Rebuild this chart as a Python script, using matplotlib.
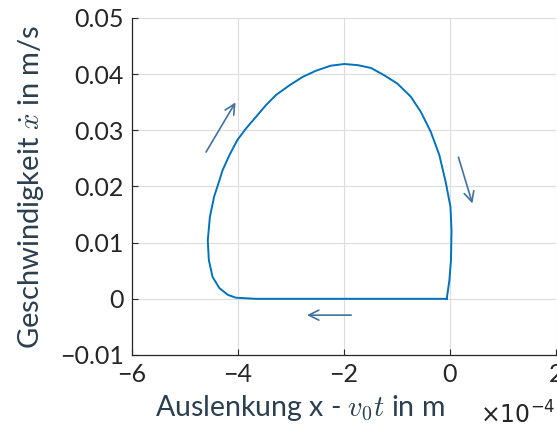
import numpy as np
import matplotlib.pyplot as plt

# Phasenportrait: Auslenkung (x - v0 t) in 1e-4 m, Geschwindigkeit in m/s
x_kurve = np.array([-0.06, -1.0, -2.0, -3.0, -3.66, -4.04, -4.19, -4.35, -4.48, -4.55,
                    -4.57, -4.53, -4.45, -4.35, -4.29, -4.16, -4.01, -3.85, -3.66,
                    -3.47, -3.28, -3.03, -2.78, -2.53, -2.25, -1.99, -1.74, -1.49,
                    -1.24, -0.99, -0.74, -0.55, -0.36, -0.20, -0.08, 0.01, 0.03,
                    0.02, -0.01, -0.06])
v_kurve = np.array([0.0, 0.0, 0.0, 0.0, 0.0, 0.0002, 0.0007, 0.0019, 0.0039, 0.0069,
                    0.0104, 0.0146, 0.0182, 0.0211, 0.0229, 0.0256, 0.0283, 0.0303,
                    0.0324, 0.0345, 0.0363, 0.0380, 0.0395, 0.0406, 0.0415, 0.0418,
                    0.0416, 0.0411, 0.0398, 0.0383, 0.0360, 0.0333, 0.0297, 0.0256,
                    0.0208, 0.0164, 0.0122, 0.0069, 0.0033, 0.0])

# Pfeile (Start, Ende)
pfeile = [((-4.63, 0.0257), (-4.02, 0.0354)),
          ((0.145, 0.0257), (0.44, 0.0165)),
          ((-1.81, -0.0029), (-2.75, -0.0029))]

xticks = [-6, -4, -2, 0, 2]
xtick_labels = ['\u22126', '\u22124', '\u22122', '0', '2']
yticks = [-0.01, 0, 0.01, 0.02, 0.03, 0.04, 0.05]
ytick_labels = ['\u22120.01', '0', '0.01', '0.02', '0.03', '0.04', '0.05']

plt.rcParams['font.family'] = ['Lato', 'DejaVu Sans']
plt.rcParams['mathtext.fontset'] = 'cm'

fig = plt.figure(figsize=(5.57, 4.38), dpi=100)
ax = fig.add_axes([0.237, 0.1895, 0.761, 0.7695])

ax.plot(x_kurve, v_kurve, color='#0072BD', lw=1.4, solid_joinstyle='round')

for (x0, y0), (x1, y1) in pfeile:
    ax.annotate('', xy=(x1, y1), xytext=(x0, y0),
                arrowprops=dict(arrowstyle='->', color='#41729f', lw=1.2,
                                mutation_scale=18))

ax.set_xlim(-6, 2)
ax.set_ylim(-0.01, 0.05)
ax.set_xticks(xticks)
ax.set_xticklabels(xtick_labels)
ax.set_yticks(yticks)
ax.set_yticklabels(ytick_labels)
ax.grid(True, color='#dcdcdc', lw=0.8)
ax.set_axisbelow(True)

for s in ['top', 'right']:
    ax.spines[s].set_visible(False)
for s in ['left', 'bottom']:
    ax.spines[s].set_color('#262626')
    ax.spines[s].set_linewidth(0.9)
ax.tick_params(labelsize=18, colors='#262626', direction='in', length=4, pad=6)

ax.set_xlabel(r'Auslenkung x - $v_0t$ in m', fontsize=20.5, color='#2b3f4f')
ax.xaxis.set_label_coords(0.395, -0.115)
ax.set_ylabel(r'Geschwindigkeit $\dot{x}$ in m/s', fontsize=21, color='#2b3f4f', labelpad=10)
fig.text(0.862, 0.034, r'$\times10^{-4}$', fontsize=17, color='#262626',
         math_fontfamily='dejavusans', va='baseline')

fig.savefig('out.png', dpi=100)
